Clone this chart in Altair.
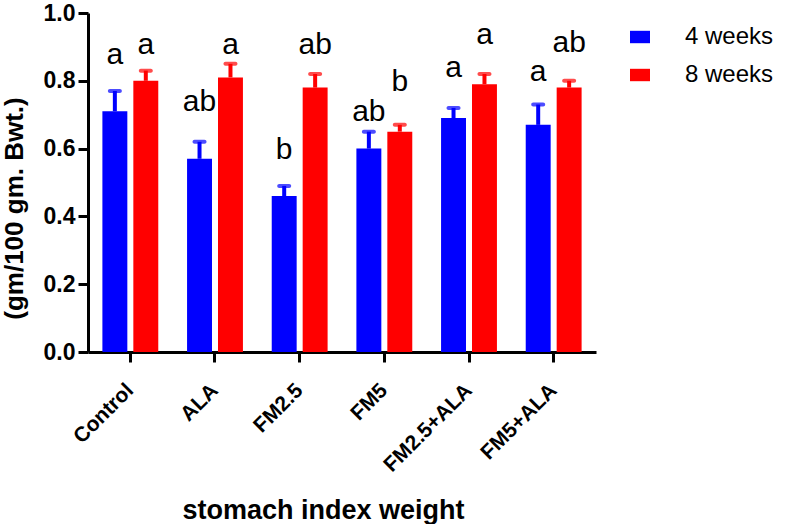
import altair as alt
import pandas as pd

categories = ["Control", "ALA", "FM2.5", "FM5", "FM2.5+ALA", "FM5+ALA"]
series = ["4 weeks", "8 weeks"]
mean_4w = [0.71, 0.57, 0.46, 0.60, 0.69, 0.67]
sem_4w = [0.06, 0.05, 0.03, 0.05, 0.03, 0.06]
mean_8w = [0.80, 0.81, 0.78, 0.65, 0.79, 0.78]
sem_8w = [0.03, 0.04, 0.04, 0.02, 0.03, 0.02]
letters_4w = ["a", "ab", "b", "ab", "a", "a"]
letters_8w = ["a", "a", "ab", "b", "a", "ab"]
letter_y_4w = [0.85, 0.71, 0.57, 0.68, 0.81, 0.80]
letter_y_8w = [0.88, 0.88, 0.88, 0.77, 0.91, 0.885]
y_ticks = [0.0, 0.2, 0.4, 0.6, 0.8, 1.0]

rows = []
for i, c in enumerate(categories):
    rows.append({"group": c, "series": series[0], "mean": mean_4w[i], "sem": sem_4w[i],
                 "top": mean_4w[i] + sem_4w[i], "letter": letters_4w[i], "ly": letter_y_4w[i]})
    rows.append({"group": c, "series": series[1], "mean": mean_8w[i], "sem": sem_8w[i],
                 "top": mean_8w[i] + sem_8w[i], "letter": letters_8w[i], "ly": letter_y_8w[i]})
df = pd.DataFrame(rows)

FONT = "Liberation Sans"

x_enc = alt.X("group:N", sort=categories,
              scale=alt.Scale(paddingInner=0.34, paddingOuter=0.17),
              axis=alt.Axis(title="stomach index weight", labelAngle=-45, labelAlign="right",
                            labelBaseline="middle", labelPadding=25, labelFontSize=21,
                            labelFontWeight="bold", titleFontSize=27, titleFontWeight="bold",
                            titleX=235, titleY=166, titleBaseline="alphabetic",
                            domainWidth=3, tickWidth=3, tickSize=10, domainColor="black",
                            tickColor="black", labelColor="black", titleColor="black"))
xo_enc = alt.XOffset("series:N", sort=series,
                     scale=alt.Scale(paddingInner=0.194, paddingOuter=0))
y_scale = alt.Scale(domain=[0, 1], nice=False)
color_enc = alt.Color("series:N", sort=series,
                      scale=alt.Scale(domain=series, range=["#0000FF", "#FF0000"]),
                      legend=alt.Legend(title=None, orient="none", legendX=540, legendY=12,
                                        symbolType="M-1,-0.62H1V0.62H-1Z", symbolSize=400,
                                        symbolStrokeWidth=0, symbolOpacity=1,
                                        labelFontSize=24, labelOffset=33, rowPadding=14,
                                        labelColor="black", padding=0))

base = alt.Chart(df)

bars = base.mark_bar().encode(
    x=x_enc,
    xOffset=xo_enc,
    y=alt.Y("mean:Q", scale=y_scale,
            axis=alt.Axis(title="(gm/100 gm. Bwt.)", values=y_ticks, format=".1f",
                          labelFontSize=23, labelFontWeight="bold", labelPadding=3,
                          titleFontSize=26, titleFontWeight="bold", titleX=-74, titleY=195,
                          titleAngle=-90, titleBaseline="middle", titleAlign="center",
                          domainWidth=3, tickWidth=3, tickSize=10, grid=False,
                          domainColor="black", tickColor="black", labelColor="black",
                          titleColor="black")),
    color=color_enc,
)

stems = base.mark_rule(strokeWidth=4).encode(
    x=alt.X("group:N", sort=categories),
    xOffset=xo_enc,
    y=alt.Y("mean:Q", scale=y_scale),
    y2="top:Q",
    color=color_enc,
)

caps = base.mark_tick(thickness=4, size=14, cornerRadius=2).encode(
    x=alt.X("group:N", sort=categories),
    xOffset=xo_enc,
    y=alt.Y("top:Q", scale=y_scale),
    color=color_enc,
)

labels = base.mark_text(fontSize=30, baseline="alphabetic", color="black", font=FONT).encode(
    x=alt.X("group:N", sort=categories),
    xOffset=xo_enc,
    y=alt.Y("ly:Q", scale=y_scale),
    text="letter:N",
)

chart = alt.layer(bars, stems, caps, labels).properties(
    width=508, height=339,
    padding={"left": 88, "top": 13, "right": 191, "bottom": 172},
    autosize="none",
).configure(font=FONT).configure_view(stroke=None).configure_axis(grid=False)

chart.save("out.html", embed_options={"renderer": "svg", "actions": False})
